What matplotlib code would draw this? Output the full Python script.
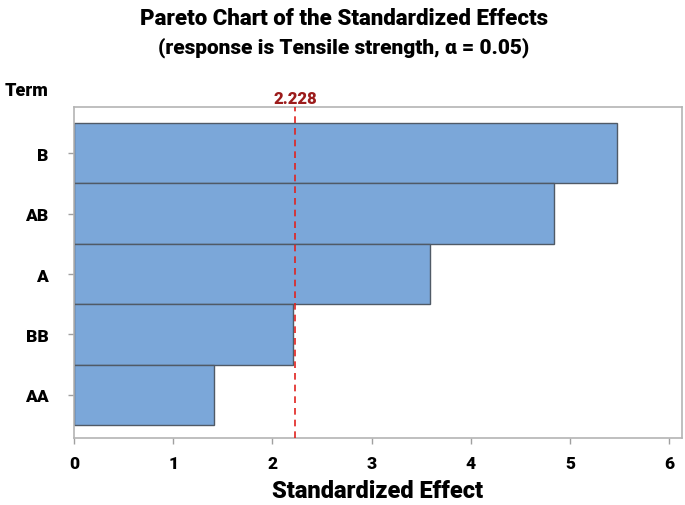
import matplotlib
matplotlib.use("Agg")
import matplotlib.pyplot as plt

# Pareto chart data
terms = ["B", "AB", "A", "BB", "AA"]
effects = [5.47, 4.84, 3.59, 2.21, 1.41]
critical = 2.228
xticks = [0, 1, 2, 3, 4, 5, 6]

plt.rcParams['font.family'] = ['Roboto', 'DejaVu Sans']
W = 900

fig = plt.figure(figsize=(6.85, 5.06), dpi=100)
ax = fig.add_axes([0.108, 0.1324, 0.8876, 0.6542])

pos = list(range(len(terms)))
ax.barh(pos, effects, height=1.0, color='#7BA7D9', edgecolor='#505a66', linewidth=1.0, zorder=2)
ax.axvline(critical, color='#e0231f', linestyle=(0, (4, 3)), linewidth=1.2, zorder=3)
ax.text(critical, 1.004, f"{critical:.3f}", transform=ax.get_xaxis_transform(),
        ha='center', va='bottom', color='#9c1c1c', fontsize=12, fontweight=W)

ax.set_xlim(0, 6.13)
ax.set_ylim(4.715, -0.765)
ax.set_yticks(pos)
ax.set_yticklabels(terms, fontsize=12.5, fontweight=W)
ax.set_xticks(xticks)
ax.set_xticklabels([str(t) for t in xticks], fontsize=12.5, fontweight=W)
ax.tick_params(axis='both', color='#a0a0a0', length=4, width=1)
ax.tick_params(axis='y', pad=14.5)
ax.tick_params(axis='x', pad=8)
for s in ax.spines.values():
    s.set_color('#b4b4b4')
    s.set_linewidth(1.2)

ax.set_xlabel("Standardized Effect", fontsize=17, fontweight=W, labelpad=6)
fig.text(0.071, 0.82, "Term", ha='right', va='center', fontsize=13, fontweight=W)

fig.text(0.502, 0.962, "Pareto Chart of the Standardized Effects", ha='center', va='center',
         fontsize=16, fontweight=W)
fig.text(0.502, 0.905, "(response is Tensile strength, \u03b1 = 0.05)", ha='center', va='center',
         fontsize=15, fontweight=W)

fig.savefig("out.png", dpi=100)
